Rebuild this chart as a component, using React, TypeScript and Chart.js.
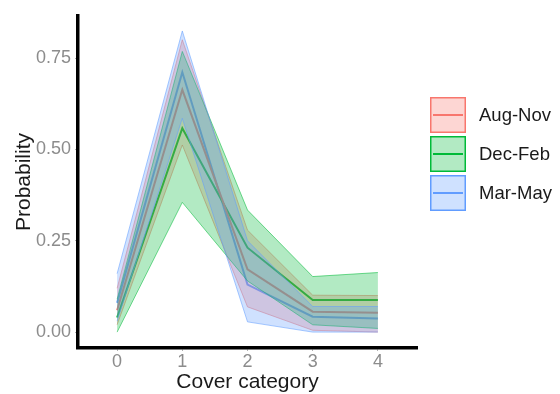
import React, { useEffect, useRef } from "react";
import { Chart, registerables } from "chart.js";

Chart.register(...registerables);

const categories = [0, 1, 2, 3, 4];
const seriesNames = ["Aug-Nov", "Dec-Feb", "Mar-May"];
const seriesColors = ["#F8766D", "#00BA38", "#619CFF"];
const seriesFills = ["rgba(248,118,109,0.3)", "rgba(0,186,56,0.3)", "rgba(97,156,255,0.3)"];
const seriesEdges = ["rgba(248,118,109,0.55)", "rgba(0,186,56,0.55)", "rgba(97,156,255,0.55)"];

const augNovMean = [0.06, 0.663, 0.172, 0.056, 0.053];
const augNovLower = [0.02, 0.512, 0.069, 0.005, 0.0];
const augNovUpper = [0.12, 0.8, 0.279, 0.101, 0.1];

const decFebMean = [0.04, 0.558, 0.231, 0.088, 0.088];
const decFebLower = [0.0, 0.355, 0.14, 0.02, 0.01];
const decFebUpper = [0.09, 0.768, 0.334, 0.152, 0.163];

const marMayMean = [0.08, 0.711, 0.13, 0.042, 0.037];
const marMayLower = [0.03, 0.585, 0.028, 0.0, 0.0];
const marMayUpper = [0.16, 0.824, 0.25, 0.07, 0.07];

const xTicks = [0, 1, 2, 3, 4];
const yTicks = [0, 0.25, 0.5, 0.75];

const means = [augNovMean, decFebMean, marMayMean];
const lowers = [augNovLower, decFebLower, marMayLower];
const uppers = [augNovUpper, decFebUpper, marMayUpper];

const FONT = "'Liberation Sans', Arial, Helvetica, sans-serif";

const legendPlugin = {
  id: "ribbonLegend",
  afterDraw(chart: any) {
    const ctx = chart.ctx;
    ctx.save();
    const x0 = 430;
    const size = 36;
    const gap = 3;
    const y0 = 97;
    seriesNames.forEach((name, i) => {
      const y = y0 + i * (size + gap);
      ctx.fillStyle = "#ffffff";
      ctx.fillRect(x0, y, size, size);
      ctx.fillStyle = seriesFills[i];
      ctx.fillRect(x0, y, size, size);
      ctx.strokeStyle = seriesColors[i];
      ctx.lineWidth = 1.5;
      ctx.strokeRect(x0 + 0.75, y + 0.75, size - 1.5, size - 1.5);
      ctx.beginPath();
      ctx.moveTo(x0 + 3, y + size / 2);
      ctx.lineTo(x0 + size - 3, y + size / 2);
      ctx.lineWidth = 2;
      ctx.stroke();
      ctx.fillStyle = "#1a1a1a";
      ctx.font = `18.5px ${FONT}`;
      ctx.textAlign = "left";
      ctx.textBaseline = "middle";
      ctx.fillText(name, 479, y + size / 2 + 1);
    });
    ctx.restore();
  },
};

export default function App() {
  const canvasRef = useRef<HTMLCanvasElement | null>(null);

  useEffect(() => {
    document.body.style.margin = "0";
    const canvas = canvasRef.current;
    if (!canvas) return;

    const datasets: any[] = [];
    // mean lines first (drawn last => on top? no: first dataset is drawn on top in Chart.js)
    // Put ribbons first so they are on top of lines, lines underneath
    seriesNames.forEach((name, i) => {
      const lowerIndex = datasets.length;
      datasets.push({
        label: name + " lower",
        data: categories.map((c, k) => ({ x: c, y: lowers[i][k] })),
        borderColor: seriesEdges[i],
        borderWidth: 1,
        pointRadius: 0,
        fill: false,
        order: 10 - i,
      });
      datasets.push({
        label: name + " upper",
        data: categories.map((c, k) => ({ x: c, y: uppers[i][k] })),
        borderColor: seriesEdges[i],
        borderWidth: 1,
        backgroundColor: seriesFills[i],
        pointRadius: 0,
        fill: lowerIndex,
        order: 10 - i,
      });
    });
    seriesNames.forEach((name, i) => {
      datasets.push({
        label: name,
        data: categories.map((c, k) => ({ x: c, y: means[i][k] })),
        borderColor: seriesColors[i],
        borderWidth: 2,
        pointRadius: 0,
        fill: false,
        order: 20,
      });
    });

    const chart = new Chart(canvas, {
      type: "line",
      data: { datasets },
      options: {
        animation: false,
        responsive: true,
        maintainAspectRatio: false,
        layout: { padding: { top: 16, right: 143, left: 0, bottom: 0 } },
        plugins: {
          legend: { display: false },
          tooltip: { enabled: false },
          title: { display: false },
        },
        scales: {
          x: {
            type: "linear",
            min: -0.6,
            max: 4.6,
            afterBuildTicks: (scale: any) => {
              scale.ticks = xTicks.map((v) => ({ value: v }));
            },
            afterFit: (scale: any) => {
              scale.height = 46;
            },
            grid: {
              display: true,
              drawOnChartArea: false,
              drawTicks: true,
              tickLength: 3,
              tickColor: "#b0b0b0",
              color: "rgba(0,0,0,0)",
            },
            border: { display: true, color: "#000000", width: 3.5 },
            ticks: {
              color: "#8c8c8c",
              font: { family: FONT, size: 18, lineHeight: 1 },
              padding: 2,
              callback: (v: any) => String(v),
            },
            title: {
              display: true,
              text: "Cover category",
              color: "#1a1a1a",
              font: { family: FONT, size: 21, lineHeight: 1.1 },
              padding: { top: 0, bottom: 0 },
            },
          },
          y: {
            type: "linear",
            min: -0.0435,
            max: 0.865,
            afterBuildTicks: (scale: any) => {
              scale.ticks = yTicks.map((v) => ({ value: v }));
            },
            afterFit: (scale: any) => {
              scale.width = 78;
            },
            grid: {
              display: true,
              drawOnChartArea: false,
              drawTicks: true,
              tickLength: 3,
              tickColor: "#b0b0b0",
              color: "rgba(0,0,0,0)",
            },
            border: { display: true, color: "#000000", width: 3.5 },
            ticks: {
              color: "#8c8c8c",
              font: { family: FONT, size: 18 },
              padding: 4,
              callback: (v: any) => Number(v).toFixed(2),
            },
            title: {
              display: true,
              text: "Probability",
              color: "#1a1a1a",
              font: { family: FONT, size: 21, lineHeight: 1.2 },
              padding: { top: 12, bottom: 0 },
            },
          },
        },
      },
      plugins: [legendPlugin],
    });

    return () => {
      chart.destroy();
    };
  }, []);

  return (
    <div style={{ position: "fixed", left: 0, top: 0, width: 560, height: 394, background: "#ffffff" }}>
      <canvas ref={canvasRef} />
    </div>
  );
}
